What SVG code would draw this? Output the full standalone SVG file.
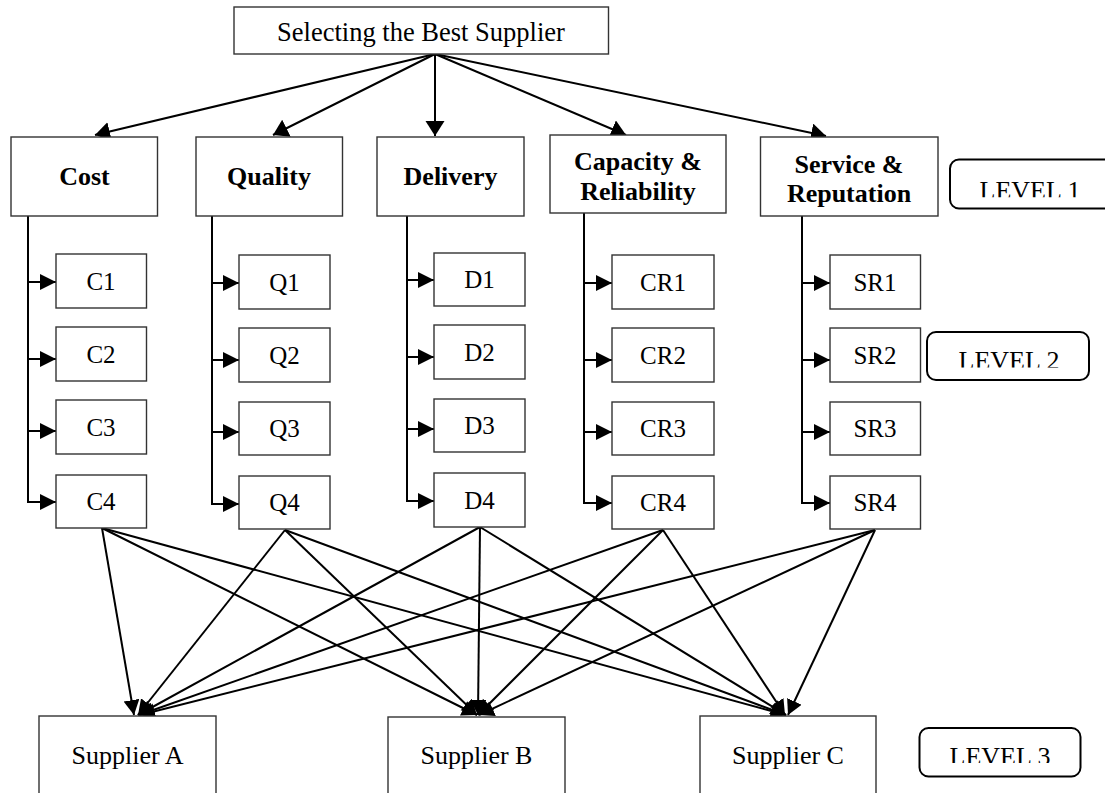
<svg xmlns="http://www.w3.org/2000/svg" width="1105" height="793" viewBox="0 0 1105 793">
<style>
.box{fill:#fff;stroke:#333;stroke-width:1.4}
.lvl{fill:#fff;stroke:#000;stroke-width:2}
.t{font-family:"Liberation Serif","Times New Roman",serif;font-size:26px;fill:#000;text-anchor:middle}
.b{font-weight:bold}
.s{font-size:25px}
.ln{fill:none;stroke:#000;stroke-width:2}
.a1{marker-end:url(#ah1)}
.a2{marker-end:url(#ah2)}
.a3{marker-end:url(#ah3)}
</style>
<defs>
<marker id="ah1" markerUnits="userSpaceOnUse" markerWidth="16" markerHeight="20" refX="15" refY="9.5" orient="auto"><path d="M0,0 L15,9.5 L0,19 z" fill="#000"/></marker>
<marker id="ah2" markerUnits="userSpaceOnUse" markerWidth="17" markerHeight="17" refX="16" refY="8" orient="auto"><path d="M0,0 L16,8 L0,16 z" fill="#000"/></marker>
<marker id="ah3" markerUnits="userSpaceOnUse" markerWidth="17" markerHeight="17" refX="15" refY="8" orient="auto"><path d="M0,0 L15,8 L0,16 z" fill="#000"/></marker>
<clipPath id="cl1"><rect x="940" y="150" width="165" height="47.3"/></clipPath>
<clipPath id="cl2"><rect x="920" y="320" width="180" height="47.6"/></clipPath>
<clipPath id="cl3"><rect x="910" y="720" width="180" height="43"/></clipPath>
</defs>
<rect width="1105" height="793" fill="#fff"/>

<g id="connectors">
<path class="ln a1" d="M435,54 L95,135"/>
<path class="ln a1" d="M435,54 L273,135"/>
<path class="ln a1" d="M435,54 L435,136"/>
<path class="ln a1" d="M435,54 L626,135"/>
<path class="ln a1" d="M435,54 L826,136"/>

<path class="ln a2" d="M28,216 V502 H56"/>
<path class="ln a2" d="M28,282 H56"/>
<path class="ln a2" d="M28,359 H56"/>
<path class="ln a2" d="M28,431 H56"/>

<path class="ln a2" d="M212,216 V504 H239"/>
<path class="ln a2" d="M212,283 H239"/>
<path class="ln a2" d="M212,360 H239"/>
<path class="ln a2" d="M212,432 H239"/>

<path class="ln a2" d="M407,216 V501 H434"/>
<path class="ln a2" d="M407,280 H434"/>
<path class="ln a2" d="M407,357 H434"/>
<path class="ln a2" d="M407,429 H434"/>

<path class="ln a2" d="M584,213 V503 H612"/>
<path class="ln a2" d="M584,283 H612"/>
<path class="ln a2" d="M584,360 H612"/>
<path class="ln a2" d="M584,432 H612"/>

<path class="ln a2" d="M802,216 V503 H830"/>
<path class="ln a2" d="M802,283 H830"/>
<path class="ln a2" d="M802,360 H830"/>
<path class="ln a2" d="M802,432 H830"/>

<path class="ln a3" d="M102,528 L134,715"/>
<path class="ln a3" d="M102,528 L477,715"/>
<path class="ln a3" d="M102,528 L786,715"/>
<path class="ln a3" d="M285,530 L138,715"/>
<path class="ln a3" d="M285,530 L477,715"/>
<path class="ln a3" d="M285,530 L786,715"/>
<path class="ln a3" d="M480,527 L138,715"/>
<path class="ln a3" d="M480,527 L478,715"/>
<path class="ln a3" d="M480,527 L786,715"/>
<path class="ln a3" d="M663,530 L139,715"/>
<path class="ln a3" d="M663,530 L478,715"/>
<path class="ln a3" d="M663,530 L785,715"/>
<path class="ln a3" d="M875,530 L140,715"/>
<path class="ln a3" d="M875,530 L479,715"/>
<path class="ln a3" d="M875,530 L788,715"/>
</g>

<g id="goal"><rect class="box" x="234" y="7" width="374.5" height="47"/><text class="t" x="421" y="41" style="font-size:26.5px">Selecting the Best Supplier</text></g>

<g id="cost"><rect class="box" x="11" y="137" width="146.5" height="79"/><text class="t b" x="84.5" y="185">Cost</text></g>
<g id="quality"><rect class="box" x="196" y="137" width="146.5" height="79"/><text class="t b" x="269" y="185">Quality</text></g>
<g id="delivery"><rect class="box" x="377" y="137" width="147" height="79"/><text class="t b" x="450.5" y="185">Delivery</text></g>
<g id="capacity"><rect class="box" x="550" y="135" width="176" height="78"/><text class="t b" x="638" y="170">Capacity &amp;</text><text class="t b" x="638" y="200">Reliability</text></g>
<g id="service"><rect class="box" x="760.5" y="137" width="177.5" height="79"/><text class="t b" x="849" y="173">Service &amp;</text><text class="t b" x="849" y="202">Reputation</text></g>

<g id="c1"><rect class="box" x="56" y="254" width="90.5" height="54"/><text class="t s" x="101" y="290">C1</text></g>
<g id="c2"><rect class="box" x="56" y="327" width="90.5" height="54"/><text class="t s" x="101" y="363">C2</text></g>
<g id="c3"><rect class="box" x="56" y="400" width="90.5" height="54"/><text class="t s" x="101" y="436">C3</text></g>
<g id="c4"><rect class="box" x="56" y="475" width="90.5" height="53"/><text class="t s" x="101" y="510">C4</text></g>

<g id="q1"><rect class="box" x="239" y="255" width="91" height="54"/><text class="t s" x="284.5" y="291">Q1</text></g>
<g id="q2"><rect class="box" x="239" y="328" width="91" height="54"/><text class="t s" x="284.5" y="364">Q2</text></g>
<g id="q3"><rect class="box" x="239" y="402" width="91" height="53"/><text class="t s" x="284.5" y="437">Q3</text></g>
<g id="q4"><rect class="box" x="239" y="476" width="91" height="53"/><text class="t s" x="284.5" y="511">Q4</text></g>

<g id="d1"><rect class="box" x="434" y="253" width="91" height="53"/><text class="t s" x="479.5" y="288">D1</text></g>
<g id="d2"><rect class="box" x="434" y="325" width="91" height="54"/><text class="t s" x="479.5" y="361">D2</text></g>
<g id="d3"><rect class="box" x="434" y="399" width="91" height="53"/><text class="t s" x="479.5" y="434">D3</text></g>
<g id="d4"><rect class="box" x="434" y="473" width="91" height="54"/><text class="t s" x="479.5" y="509">D4</text></g>

<g id="cr1"><rect class="box" x="612" y="255" width="102" height="54"/><text class="t s" x="663" y="291">CR1</text></g>
<g id="cr2"><rect class="box" x="612" y="328" width="102" height="54"/><text class="t s" x="663" y="364">CR2</text></g>
<g id="cr3"><rect class="box" x="612" y="402" width="102" height="53"/><text class="t s" x="663" y="437">CR3</text></g>
<g id="cr4"><rect class="box" x="612" y="476" width="102" height="53"/><text class="t s" x="663" y="511">CR4</text></g>

<g id="sr1"><rect class="box" x="830" y="255" width="90.5" height="54"/><text class="t s" x="875" y="291">SR1</text></g>
<g id="sr2"><rect class="box" x="830" y="328" width="90.5" height="54"/><text class="t s" x="875" y="364">SR2</text></g>
<g id="sr3"><rect class="box" x="830" y="402" width="90.5" height="53"/><text class="t s" x="875" y="437">SR3</text></g>
<g id="sr4"><rect class="box" x="830" y="476" width="90.5" height="53"/><text class="t s" x="875" y="511">SR4</text></g>

<g id="supplierA"><rect class="box" x="39" y="716" width="177" height="100"/><text class="t" x="127.5" y="764">Supplier A</text></g>
<g id="supplierB"><rect class="box" x="388" y="717" width="177" height="100"/><text class="t" x="476.5" y="764">Supplier B</text></g>
<g id="supplierC"><rect class="box" x="700" y="716" width="176" height="100"/><text class="t" x="788" y="764">Supplier C</text></g>

<g id="level1"><rect class="lvl" x="950" y="159.5" width="170" height="49" rx="9"/><text class="t" x="1030" y="199" clip-path="url(#cl1)">LEVEL 1</text></g>
<g id="level2"><rect class="lvl" x="927" y="332" width="162" height="48" rx="9"/><text class="t" x="1009" y="369" clip-path="url(#cl2)">LEVEL 2</text></g>
<g id="level3"><rect class="lvl" x="919.5" y="728" width="161" height="48.5" rx="9"/><text class="t" x="1000" y="765" clip-path="url(#cl3)">LEVEL 3</text></g>
</svg>
